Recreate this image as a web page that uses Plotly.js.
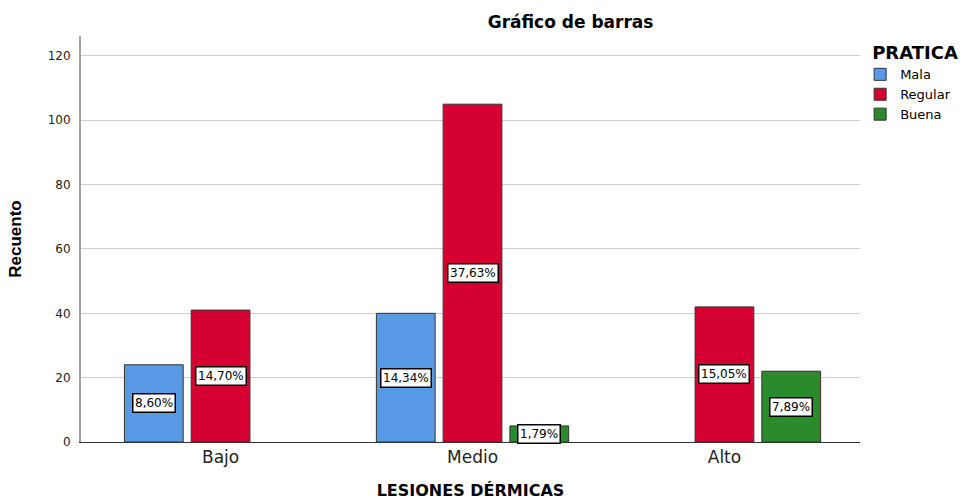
<!DOCTYPE html>
<html>
<head>
<meta charset="utf-8">
<script src="https://cdn.plot.ly/plotly-3.0.1.min.js"></script>
<style>html,body{margin:0;padding:0;background:#fff;}#chart{width:972px;height:500px;}</style>
</head>
<body>
<div id="chart"></div>
<script>
const categories = ["Bajo", "Medio", "Alto"];
const seriesNames = ["Mala", "Regular", "Buena"];
const mala = [24, 40, 0];
const regular = [41, 105, 42];
const buena = [0, 5, 22];
const yTicks = [0, 20, 40, 60, 80, 100, 120];

const seriesValues = [mala, regular, buena];
const colors = ["#5799E4", "#D40031", "#2B8A2C"];
const total = seriesValues.flat().reduce((a, b) => a + b, 0);
const FONT = "DejaVu Sans, Verdana, sans-serif";

const traces = seriesValues.map((vals, j) => ({
  type: "bar",
  name: seriesNames[j],
  x: categories,
  y: vals.map(v => (v > 0 ? v : null)),
  marker: { color: colors[j], line: { color: "#333333", width: 1 } },
  hoverinfo: "none"
}));

const slot = 0.265;
const annotations = [];
seriesValues.forEach((vals, j) => {
  vals.forEach((v, i) => {
    if (v > 0) {
      const pct = (v / total * 100).toFixed(2).replace(".", ",") + "%";
      annotations.push({
        x: i + (j - 1) * slot, y: v / 2, xref: "x", yref: "y",
        text: pct, showarrow: false,
        font: { family: FONT, size: 12, color: "#000" },
        bgcolor: "#ffffff", bordercolor: "#000000", borderwidth: 1.5, borderpad: 1.5
      });
    }
  });
});

const layout = {
  width: 972, height: 500,
  margin: { l: 81, r: 112, t: 36, b: 58 },
  paper_bgcolor: "#ffffff", plot_bgcolor: "#ffffff",
  barmode: "group", bargap: 0.205, bargroupgap: 0.12,
  title: {
    text: "<b>Gráfico de barras</b>", x: 0.587, xref: "container", xanchor: "center",
    y: 0.955, yref: "container", yanchor: "middle",
    font: { family: FONT, size: 17, color: "#000" }
  },
  xaxis: {
    type: "category", range: [-0.554, 2.538],
    showline: true, linecolor: "#333333", linewidth: 1,
    showgrid: false, ticks: "", zeroline: false,
    tickfont: { family: FONT, size: 17, color: "#222" },
    title: { text: "<b>LESIONES DÉRMICAS</b>", standoff: 20,
      font: { family: FONT, size: 16, color: "#000" } }
  },
  yaxis: {
    range: [0, 126.2], tickvals: yTicks,
    showline: true, linecolor: "#a0a0a0", linewidth: 2,
    showgrid: true, gridcolor: "#cfcfcf", gridwidth: 1,
    zeroline: false, ticks: "", ticklabelstandoff: 6,
    tickfont: { family: FONT, size: 12, color: "#222" },
    title: { text: "<b>Recuento</b>", standoff: 22,
      font: { family: "Liberation Sans Narrow, Arial Narrow, Liberation Sans, sans-serif", size: 17, color: "#000" } }
  },
  legend: {
    x: 1.013, xref: "paper", xanchor: "left", y: 1.0, yanchor: "top",
    title: { text: "<b>PRATICA</b>", font: { family: FONT, size: 18, color: "#000" } },
    font: { family: FONT, size: 13, color: "#000" },
    tracegroupgap: 0, itemwidth: 30, indentation: -10, bgcolor: "rgba(0,0,0,0)"
  },
  annotations: annotations,
  showlegend: true
};

Plotly.newPlot("chart", traces, layout, { displayModeBar: false, staticPlot: true });
</script>
</body>
</html>
